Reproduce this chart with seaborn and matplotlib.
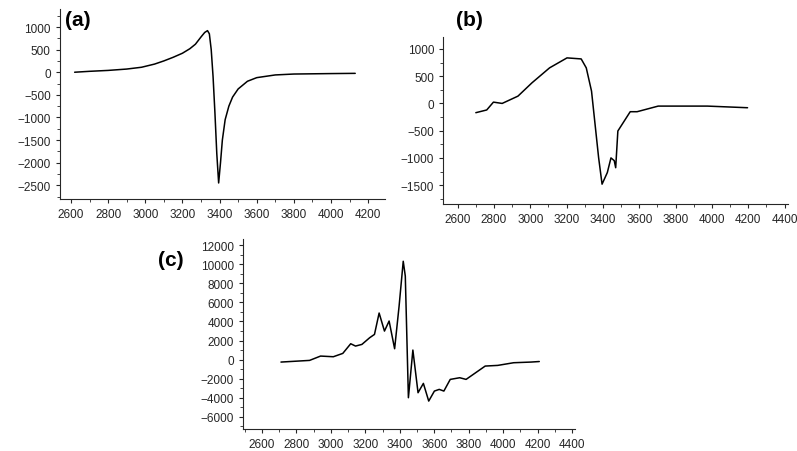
import numpy as np
import pandas as pd
import seaborn as sns
import matplotlib.pyplot as plt
from matplotlib.ticker import MultipleLocator, AutoMinorLocator

# panel (a)
fieldA = [2620, 2700, 2800, 2900, 2980, 3050, 3100, 3150, 3200, 3240, 3270, 3300, 3320, 3335, 3345,
          3355, 3365, 3375, 3385, 3395, 3405, 3415, 3430, 3450, 3470, 3500, 3550, 3600, 3700, 3800,
          4000, 4130]
signalA = [0, 20, 40, 70, 110, 180, 250, 330, 420, 520, 620, 780, 880, 920, 850,
           500, -100, -900, -1800, -2450, -2000, -1500, -1050, -750, -550, -370, -200, -120, -60, -40,
           -30, -25]

# panel (b)
fieldB = [2700, 2760, 2797, 2845, 2932, 3009, 3106, 3202, 3280, 3308, 3337, 3376, 3395, 3424, 3444,
          3462, 3470, 3482, 3550, 3588, 3704, 3975, 4196]
signalB = [-170, -120, 24, 0, 134, 378, 653, 836, 817, 653, 226, -994, -1482, -1269, -1000,
           -1050, -1180, -506, -152, -152, -49, -49, -79]

# panel (c)
fieldC = [2710, 2876, 2940, 3014, 3069, 3115, 3143, 3180, 3225, 3253, 3280, 3311, 3338, 3370, 3396,
          3420, 3432, 3450, 3476, 3506, 3537, 3568, 3601, 3629, 3656, 3693, 3748, 3785, 3896, 3969,
          4061, 4162, 4210]
signalC = [-256, -82, 372, 302, 651, 1663, 1419, 1593, 2291, 2640, 4879, 2989, 4041, 1140, 5607,
           10300, 8748, -3990, 1000, -3467, -2490, -4340, -3293, -3118, -3293, -2071, -1897, -2071, -675, -605,
           -326, -256, -200]

sns.set_style("ticks")
plt.rcParams["font.family"] = "Liberation Sans"

fig = plt.figure(figsize = (7.97, 4.52), dpi = 100)

panels = [
    ("(a)", fieldA, signalA, [0.075, 0.558, 0.408, 0.42], (2540, 4290), (-2800, 1400), 500, (4200, 2600), (0.082, 0.975)),
    ("(b)", fieldB, signalB, [0.556, 0.546, 0.433, 0.37], (2520, 4420), (-1850, 1220), 500, (4400, 2600), (0.572, 0.975)),
    ("(c)", fieldC, signalC, [0.305, 0.049, 0.417, 0.42], (2490, 4420), (-7250, 12630), 2000, (4400, 2600), (0.198, 0.445)),
]

for label, xs, ys, rect, xlim, ylim, ystep, (xmax, xmin), labelPos in panels:
    ax = fig.add_axes(rect)
    df = pd.DataFrame({"field": xs, "signal": ys})
    sns.lineplot(data = df, x = "field", y = "signal", sort = False, color = "black", lw = 1.1, ax = ax)
    ax.set_xlim(*xlim)
    ax.set_ylim(*ylim)
    ax.set_xticks(np.arange(xmin, xmax + 1, 200))
    ax.yaxis.set_major_locator(MultipleLocator(ystep))
    ax.xaxis.set_minor_locator(AutoMinorLocator(2))
    ax.yaxis.set_minor_locator(AutoMinorLocator(2))
    ax.tick_params(labelsize = 8.5, length = 3, width = 0.8)
    ax.tick_params(which = "minor", length = 2, width = 0.6)
    ax.set_xlabel("")
    ax.set_ylabel("")
    sns.despine(ax = ax)
    fig.text(labelPos[0], labelPos[1], label, fontsize = 15, fontweight = "bold",
             ha = "left", va = "top", color = "black")

fig.savefig("out.png", dpi = 100)
